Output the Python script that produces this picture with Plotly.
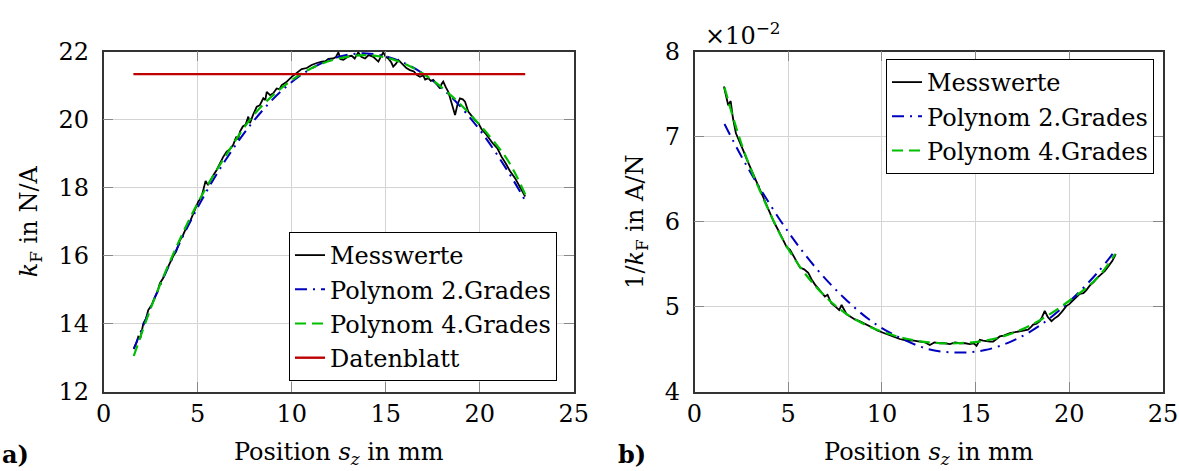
import plotly.graph_objects as go

# ---------------- data: left panel (k_F in N/A) ----------------
mess_x = [1.61, 1.75, 1.84, 1.95, 2.11, 2.25, 2.37, 2.55, 2.73, 2.85, 2.99, 3.15, 3.35, 3.50, 3.70, 3.85,
          4.06, 4.20, 4.41, 4.60, 4.77, 4.90, 5.03, 5.20, 5.35, 5.42, 5.55, 5.70, 5.85, 6.01, 6.20, 6.35,
          6.54, 6.70, 6.89, 7.05, 7.15, 7.25, 7.40, 7.55, 7.69, 7.78, 7.95, 8.14, 8.30, 8.49, 8.60, 8.67,
          8.85, 9.02, 9.20, 9.35, 9.47, 9.70, 10.00, 10.25, 10.53, 10.80, 11.06, 11.30, 11.60, 11.80, 11.95,
          12.20, 12.35, 12.48, 12.60, 12.75, 13.00, 13.19, 13.35, 13.54, 13.70, 13.90, 14.10, 14.34, 14.50,
          14.61, 14.75, 14.87, 15.00, 15.14, 15.30, 15.40, 15.55, 15.67, 15.76, 15.95, 16.10, 16.29, 16.50,
          16.65, 16.82, 17.00, 17.10, 17.27, 17.40, 17.53, 17.70, 17.89, 17.98, 18.06, 18.20, 18.33, 18.50,
          18.69, 18.82, 18.95, 19.10, 19.22, 19.39, 19.55, 19.75, 19.94, 20.10, 20.30, 20.48, 20.70, 20.94,
          21.15, 21.38, 21.60, 21.88, 22.10, 22.25, 22.42]
mess_kf = [13.28, 13.45, 13.62, 13.58, 14.01, 14.15, 14.40, 14.55, 14.79, 14.92, 15.19, 15.33, 15.58, 15.76,
           15.99, 16.12, 16.46, 16.58, 16.85, 17.02, 17.25, 17.45, 17.59, 17.72, 18.02, 18.20, 18.08, 18.25,
           18.38, 18.52, 18.75, 18.90, 19.06, 19.12, 19.26, 19.50, 19.42, 19.65, 19.80, 19.85, 20.09, 19.90,
           20.15, 20.38, 20.42, 20.63, 20.58, 20.82, 20.72, 20.78, 20.92, 20.90, 21.02, 21.10, 21.26, 21.36,
           21.49, 21.52, 21.61, 21.66, 21.71, 21.72, 21.79, 21.80, 21.84, 21.98, 21.78, 21.76, 21.86, 21.88,
           21.80, 21.98, 21.85, 21.80, 21.90, 21.85, 21.78, 21.71, 21.86, 21.98, 21.85, 21.80, 21.68, 21.56,
           21.65, 21.76, 21.71, 21.60, 21.52, 21.46, 21.42, 21.32, 21.26, 21.30, 21.18, 21.22, 21.14, 21.17,
           21.05, 20.92, 21.06, 21.12, 20.95, 20.82, 20.50, 20.14, 20.45, 20.63, 20.60, 20.53, 20.24, 20.12,
           19.99, 19.89, 19.72, 19.60, 19.45, 19.30, 19.16, 18.92, 18.72, 18.50, 18.28, 18.05, 17.92, 17.74]

fit_x = [1.6, 2.5, 3.5, 5.0, 6.5, 8.0, 9.5, 11.0, 12.5, 14.0, 15.5, 17.0, 18.5, 20.0, 21.5, 22.42]
poly2_kf = [13.25, 14.48, 15.74, 17.42, 18.83, 19.98, 20.87, 21.49, 21.85, 21.95, 21.78, 21.35, 20.66,
            19.70, 18.48, 17.62]
poly4_kf = [13.05, 14.45, 15.80, 17.55, 18.95, 20.15, 20.95, 21.50, 21.80, 21.90, 21.75, 21.35, 20.70,
            19.85, 18.80, 17.80]

datenblatt_x = [1.58, 22.42]
datenblatt_kf = [21.34, 21.34]

# ---------------- data: right panel (1/k_F in A/N) ----------------
mess2_x = [1.57, 1.72, 1.80, 1.93, 2.05, 2.21, 2.40, 2.60, 2.78, 2.96, 3.10, 3.23, 3.40, 3.58, 3.80, 4.03,
           4.25, 4.47, 4.70, 4.92, 5.10, 5.27, 5.45, 5.63, 5.85, 6.07, 6.25, 6.43, 6.70, 6.96, 7.10, 7.30,
           7.58, 7.72, 7.85, 8.00, 8.12, 8.35, 8.56, 8.80, 9.00, 9.25, 9.54, 9.75, 9.98, 10.30, 10.60, 10.95,
           11.32, 11.70, 12.03, 12.30, 12.56, 12.80, 13.09, 13.35, 13.63, 13.90, 14.16, 14.45, 14.69, 14.90,
           15.05, 15.23, 15.40, 15.60, 15.76, 15.94, 16.10, 16.29, 16.50, 16.83, 17.10, 17.36, 17.60, 17.80,
           17.95, 18.07, 18.25, 18.43, 18.55, 18.69, 18.85, 19.05, 19.20, 19.40, 19.60, 19.85, 20.00, 20.20,
           20.40, 20.56, 20.75, 20.89, 21.10, 21.30, 21.49, 21.70, 21.90, 22.10, 22.30, 22.48]
mess_inv = [0.0759, 0.0743, 0.0737, 0.0742, 0.0722, 0.0704, 0.0695, 0.0684, 0.0674, 0.0665, 0.0657, 0.0651,
            0.0641, 0.0633, 0.0622, 0.0610, 0.0599, 0.0590, 0.0579, 0.0570, 0.0567, 0.0560, 0.0552, 0.0546,
            0.0544, 0.0540, 0.0532, 0.0526, 0.0519, 0.0512, 0.0514, 0.0504, 0.0499, 0.0496, 0.0502, 0.0495,
            0.0491, 0.0488, 0.0485, 0.0483, 0.0481, 0.0478, 0.0475, 0.0472, 0.0470, 0.0467, 0.0465, 0.0462,
            0.0460, 0.0460, 0.0459, 0.0458, 0.0455, 0.0458, 0.0457, 0.0457, 0.0456, 0.0458, 0.0457, 0.0457,
            0.0456, 0.0457, 0.0454, 0.0461, 0.0460, 0.0459, 0.0459, 0.0459, 0.0462, 0.0465, 0.0466, 0.0469,
            0.0470, 0.0471, 0.0472, 0.0473, 0.0476, 0.0479, 0.0480, 0.0483, 0.0488, 0.0495, 0.0488, 0.0483,
            0.0486, 0.0489, 0.0494, 0.0501, 0.0503, 0.0507, 0.0511, 0.0515, 0.0516, 0.0519, 0.0525, 0.0529,
            0.0534, 0.0538, 0.0542, 0.0548, 0.0554, 0.0562]

fit2_x = [1.6, 2.5, 3.5, 5.0, 6.5, 8.0, 9.5, 11.0, 12.5, 14.0, 15.5, 17.0, 18.5, 20.0, 21.5, 22.45]
poly2_inv = [0.0715, 0.0677, 0.0639, 0.0588, 0.0545, 0.0510, 0.0482, 0.0463, 0.0450, 0.0446, 0.0449,
             0.0460, 0.0479, 0.0506, 0.0540, 0.0566]
poly4_inv = [0.0758, 0.0692, 0.0636, 0.0568, 0.0523, 0.0493, 0.0475, 0.0464, 0.0458, 0.0457, 0.0460,
             0.0469, 0.0485, 0.0507, 0.0534, 0.0562]

y2_ticks = [0.04, 0.05, 0.06, 0.07, 0.08]
y2_ticktext = ["4", "5", "6", "7", "8"]

# ---------------- styling ----------------
FONT = "DejaVu Serif"
FS = 24
LFS = 24
BLACK = "#000000"
BLUE = "rgb(0,0,191)"
GREEN = "rgb(0,191,0)"
RED = "rgb(191,0,0)"
DASHDOT = "12px,6px,2px,6px"
DASHED = "11px,6px"

fig = go.Figure()

fig.add_trace(go.Scatter(x=mess_x, y=mess_kf, mode="lines", name="Messwerte",
                         line=dict(color=BLACK, width=1.8), xaxis="x", yaxis="y", legend="legend"))
fig.add_trace(go.Scatter(x=fit_x, y=poly2_kf, mode="lines", name="Polynom 2.Grades", line_shape="spline",
                         line=dict(color=BLUE, width=2, dash=DASHDOT), xaxis="x", yaxis="y", legend="legend"))
fig.add_trace(go.Scatter(x=fit_x, y=poly4_kf, mode="lines", name="Polynom 4.Grades", line_shape="spline",
                         line=dict(color=GREEN, width=2.2, dash=DASHED), xaxis="x", yaxis="y", legend="legend"))
fig.add_trace(go.Scatter(x=datenblatt_x, y=datenblatt_kf, mode="lines", name="Datenblatt",
                         line=dict(color=RED, width=2.4), xaxis="x", yaxis="y", legend="legend"))

fig.add_trace(go.Scatter(x=mess2_x, y=mess_inv, mode="lines", name="Messwerte",
                         line=dict(color=BLACK, width=1.8), xaxis="x2", yaxis="y2", legend="legend2"))
fig.add_trace(go.Scatter(x=fit2_x, y=poly2_inv, mode="lines", name="Polynom 2.Grades", line_shape="spline",
                         line=dict(color=BLUE, width=2, dash=DASHDOT), xaxis="x2", yaxis="y2", legend="legend2"))
fig.add_trace(go.Scatter(x=fit2_x, y=poly4_inv, mode="lines", name="Polynom 4.Grades", line_shape="spline",
                         line=dict(color=GREEN, width=2.2, dash=DASHED), xaxis="x2", yaxis="y2", legend="legend2"))

W, H = 1179, 471
ydom = [1 - 391.7 / H, 1 - 51.7 / H]

axis_common = dict(showgrid=True, gridcolor="#d4d4d4", gridwidth=1, zeroline=False,
                   showline=True, linecolor="#333333", linewidth=1.5, mirror="ticks",
                   ticks="inside", ticklen=10, tickcolor="#888888", tickwidth=1,
                   tickfont=dict(family=FONT, size=FS, color=BLACK), automargin=False,
                   ticklabeloverflow="allow")

title_font = dict(family=FONT, size=FS, color=BLACK)

fig.update_layout(
    width=W, height=H,
    margin=dict(l=0, r=0, t=0, b=0),
    paper_bgcolor="white", plot_bgcolor="white",
    font=dict(family=FONT, size=FS, color=BLACK),
    xaxis=dict(domain=[103.7 / W, 573.7 / W], range=[0, 25], tickvals=[0, 5, 10, 15, 20, 25], anchor="y",
               title=dict(text="Position <i>s<sub>z</sub></i> in mm", font=title_font, standoff=16),
               **axis_common),
    yaxis=dict(domain=ydom, range=[12, 22], tickvals=[12, 14, 16, 18, 20, 22], anchor="x",
               title=dict(text="<i>k</i><sub>F</sub> in N/A", font=title_font, standoff=14),
               ticklabelstandoff=8, **axis_common),
    xaxis2=dict(domain=[694.5 / W, 1163 / W], range=[0, 25], tickvals=[0, 5, 10, 15, 20, 25], anchor="y2",
                title=dict(text="Position <i>s<sub>z</sub></i> in mm", font=title_font, standoff=16),
                **axis_common),
    yaxis2=dict(domain=ydom, range=[0.04, 0.08], tickvals=y2_ticks, ticktext=y2_ticktext, anchor="x2",
                title=dict(text="1/<i>k</i><sub>F</sub> in A/N", font=title_font, standoff=14),
                ticklabelstandoff=8, **axis_common),
    legend=dict(x=557 / W, xanchor="right", y=1 - 232 / H, yanchor="top",
                bgcolor="white", bordercolor="black", borderwidth=1,
                font=dict(family=FONT, size=LFS, color=BLACK), tracegroupgap=0),
    legend2=dict(x=1154 / W, xanchor="right", y=1 - 59 / H, yanchor="top",
                 bgcolor="white", bordercolor="black", borderwidth=1,
                 font=dict(family=FONT, size=LFS, color=BLACK), tracegroupgap=0),
    showlegend=True,
    annotations=[
        dict(text="<b>a)</b>", x=0, y=0, xref="paper", yref="paper", xanchor="left",
             yanchor="bottom", showarrow=False, font=dict(family=FONT, size=FS, color=BLACK)),
        dict(text="<b>b)</b>", x=616 / W, y=0, xref="paper", yref="paper", xanchor="left",
             yanchor="bottom", showarrow=False, font=dict(family=FONT, size=FS, color=BLACK)),
        dict(text="×10<sup>−2</sup>", x=703 / W, y=1 - 52 / H, xref="paper", yref="paper", xanchor="left",
             yanchor="bottom", showarrow=False, font=dict(family=FONT, size=FS, color=BLACK)),
    ],
)

fig.write_html("out.html")
